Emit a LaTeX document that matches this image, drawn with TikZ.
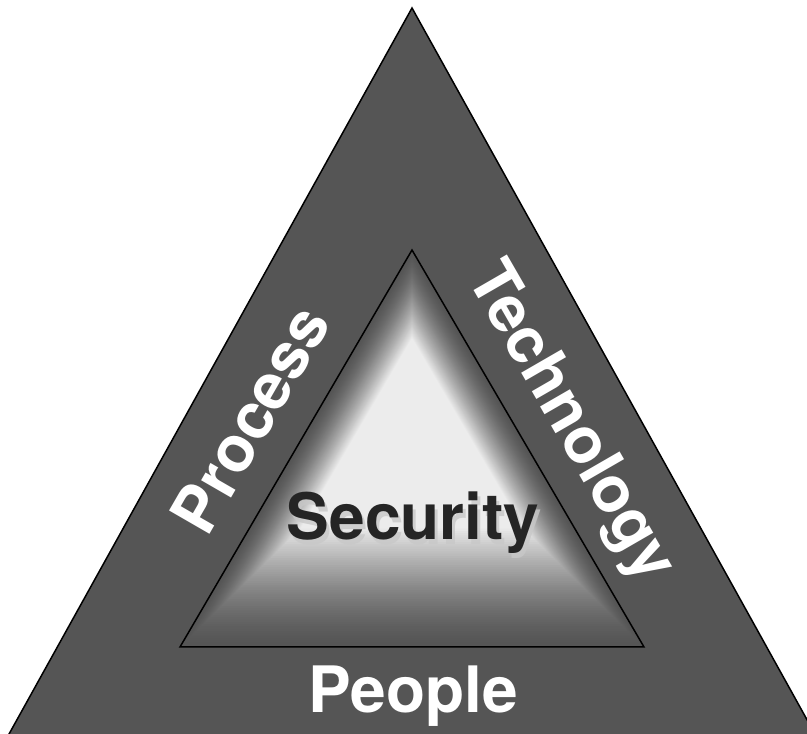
\documentclass[tikz,border=0pt]{standalone}
\usepackage{fontspec}
\setmainfont{TeX Gyre Heros}
\usepackage{xcolor}
\usetikzlibrary{calc}
\definecolor{slab}{RGB}{85,85,85}
\definecolor{glow}{RGB}{236,236,236}
\definecolor{inktext}{RGB}{37,37,37}
\definecolor{shadowtext}{RGB}{200,200,200}

\begin{document}
\begin{tikzpicture}[x=1pt, y=1pt,
            edge/.style={draw=black, line width=1.5pt, line join=miter},
            sidetext/.style={font=\fontsize{64}{64}\selectfont\bfseries, text=white, inner sep=0pt, text height=46pt, text depth=0pt},
            coretext/.style={sidetext, text=inktext}
        ]
        \useasboundingbox (0,0) rectangle (807,734);
        \clip (0,0) rectangle (807,734);

        % Outer triangle
        \coordinate (out-top) at (412,726);
        \coordinate (out-left) at (3.5,-10);
        \coordinate (out-right) at (820.5,-10);
        \fill[slab] (out-top) -- (out-left) -- (out-right) -- cycle;
        \draw[edge] (out-top) -- (out-left) -- (out-right) -- cycle;

        % Inner triangle with glow
        \coordinate (in-top) at (412,484);
        \coordinate (in-left) at (180,87);
        \coordinate (in-right) at (644,87);
        \coordinate (gc) at (412,315);
        \foreach \s in {1.00,0.99,...,0.40} {
            \pgfmathsetmacro{\t}{min(1,(1-\s)/0.52)}
            \pgfmathsetmacro{\p}{100*\t*sqrt(\t)}
            \fill[glow!\p!slab] ($(gc)!\s!(in-top)$) -- ($(gc)!\s!(in-left)$) -- ($(gc)!\s!(in-right)$) -- cycle;
        }
        \draw[edge] (in-top) -- (in-left) -- (in-right) -- cycle;

        % Labels
        \node[coretext, text=shadowtext, opacity=0.8] (security-shadow) at (416,212) {Security};
        \node[coretext] (security) at (413,217) {Security};
        \node[sidetext] (people) at (413,44) {People};
        \node[sidetext, rotate=60] (process) at (250,315) {Process};
        \node[sidetext, rotate=-60] (technology) at (575,314) {Technology};

        \end{tikzpicture}
\end{document}
